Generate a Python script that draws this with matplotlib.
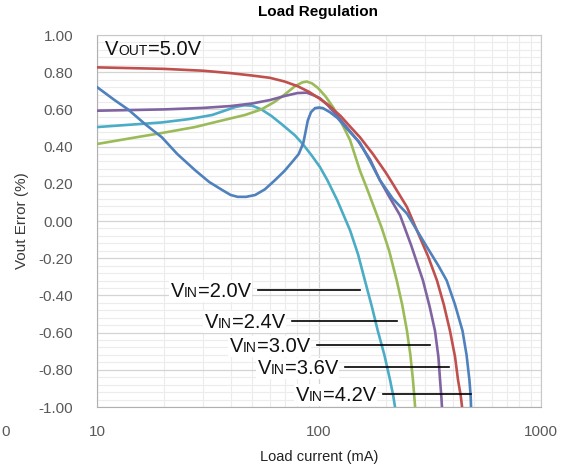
import numpy as np
import matplotlib.pyplot as plt
from matplotlib.offsetbox import TextArea, HPacker, AnnotationBbox
from matplotlib.ticker import FixedLocator, MultipleLocator, NullFormatter

plt.rcParams['font.family'] = ['Liberation Sans', 'DejaVu Sans']

# data (load current in mA, Vout error in %)
vin_labels = ["2.0V", "2.4V", "3.0V", "3.6V", "4.2V"]

x_20 = [10, 15, 19.6, 26, 33, 38, 42, 46, 50, 55, 61, 68, 78, 85, 93, 101, 109, 121,
        138, 150, 161, 173, 184, 197, 209, 216, 220]
y_20 = [0.505, 0.52, 0.53, 0.548, 0.57, 0.595, 0.613, 0.622, 0.62, 0.60, 0.565, 0.52, 0.46, 0.41, 0.35,
        0.29, 0.22, 0.11, -0.05, -0.18, -0.32, -0.46, -0.59, -0.72, -0.855, -0.94, -1.0]

x_24 = [10, 15, 20, 27.6, 35, 46.4, 55, 63, 70, 78, 84, 88, 93, 99, 107, 116, 126, 138,
        153, 165, 180, 192, 207, 224, 237, 249, 258, 265, 271]
y_24 = [0.414, 0.45, 0.475, 0.505, 0.535, 0.57, 0.60, 0.64, 0.68, 0.725, 0.745, 0.75, 0.74, 0.715,
        0.67, 0.61, 0.53, 0.435, 0.27, 0.17, 0.05, -0.04, -0.16, -0.32, -0.45, -0.59, -0.72, -0.855, -1.0]

x_30 = [10, 20, 30, 40, 50, 60, 70, 80, 88, 95, 101, 110, 128, 150, 170, 188, 205, 232,
        260, 294, 315, 333, 345, 351, 356, 358]
y_30 = [0.593, 0.60, 0.608, 0.618, 0.632, 0.65, 0.672, 0.688, 0.69, 0.675, 0.66, 0.62, 0.53, 0.43,
        0.33, 0.22, 0.14, 0.03, -0.13, -0.32, -0.46, -0.59, -0.73, -0.855, -0.95, -1.0]

x_36 = [10, 20, 30, 40, 50, 60, 70, 80, 90, 100, 110, 125, 140, 153, 175, 200, 215, 249,
        276, 310, 340, 365, 389, 410, 423, 435, 441]
y_36 = [0.826, 0.818, 0.808, 0.795, 0.782, 0.77, 0.75, 0.725, 0.695, 0.66, 0.625, 0.565, 0.50, 0.45,
        0.36, 0.26, 0.20, 0.075, -0.05, -0.19, -0.32, -0.45, -0.59, -0.73, -0.855, -0.94, -1.0]

x_42 = [10, 12, 13.8, 16.5, 19.6, 23, 27.6, 32, 36.6, 40, 43, 47, 51.6, 57, 63.4, 70, 76,
        81, 85, 87, 89, 92, 96, 100, 104, 112, 121, 135, 153, 170, 188, 215, 249, 276,
        310, 345, 376, 410, 443, 462, 476, 482, 484]
y_42 = [0.72, 0.65, 0.60, 0.52, 0.45, 0.36, 0.274, 0.21, 0.167, 0.14, 0.13, 0.13, 0.14, 0.17, 0.22,
        0.27, 0.32, 0.36, 0.42, 0.48, 0.54, 0.585, 0.607, 0.61, 0.607, 0.585, 0.554, 0.49, 0.42,
        0.32, 0.22, 0.12, 0.04, -0.05, -0.15, -0.24, -0.32, -0.45, -0.59, -0.72, -0.855, -0.94, -1.0]

# leader lines next to the labels: y level, start x, end x
lead_y = [-0.37, -0.536, -0.667, -0.785, -0.93]
lead_x0 = [53, 75.6, 97.8, 131, 194]
lead_x1 = [153, 224, 316, 385, 484]

y_ticks = [-1.0, -0.8, -0.6, -0.4, -0.2, 0.0, 0.2, 0.4, 0.6, 0.8, 1.0]
y_tick_labels = ['-1.00', '-0.80', '-0.60', '-0.40', '-0.20', '0.00', '0.20', '0.40', '0.60', '0.80', '1.00']

series = [(x_20, y_20, '#4BACC6'), (x_24, y_24, '#9BBB59'), (x_30, y_30, '#8064A2'),
          (x_36, y_36, '#C0504D'), (x_42, y_42, '#4F81BD')]

fig = plt.figure(figsize=(5.72, 4.68), dpi=100)
ax = fig.add_axes([0.1696, 0.1303, 0.7762, 0.7949])

for xs, ys, c in series:
    ax.plot(xs, ys, color=c, lw=1.9, solid_capstyle='round', solid_joinstyle='round', zorder=3)

ax.set_xscale('log')
ax.set_xlim(10, 1000)
ax.set_ylim(-1.0, 1.0)
ax.yaxis.set_minor_locator(MultipleLocator(0.04))
ax.xaxis.set_major_locator(FixedLocator([10, 100, 1000]))
ax.xaxis.set_minor_locator(FixedLocator([k * 10 ** d for d in (1, 2) for k in range(2, 10)]))
ax.xaxis.set_minor_formatter(NullFormatter())
ax.set_xticklabels(['10', '100', '1000'])
ax.set_yticks(y_ticks)
ax.set_yticklabels(y_tick_labels)
ax.tick_params(which='both', length=0, colors='#595959', labelsize=11)
ax.tick_params(axis='y', pad=17)
ax.tick_params(axis='x', pad=13)

ax.grid(which='major', color='#d4d4d4', lw=0.9)
ax.grid(which='minor', color='#ececec', lw=0.8)
ax.set_axisbelow(True)
for s in ax.spines.values():
    s.set_color('#c8c8c8')
ax.spines['left'].set_color('#b0b0b0')
ax.spines['bottom'].set_color('#b0b0b0')


def label(main, sub, rest):
    parts = [TextArea(main, textprops=dict(fontsize=14.5, color='#111111')),
             TextArea(sub, textprops=dict(fontsize=10, color='#111111')),
             TextArea(rest, textprops=dict(fontsize=14.5, color='#111111'))]
    return HPacker(children=parts, align='baseline', pad=0, sep=0)


for lab, yl, x0, x1 in zip(vin_labels, lead_y, lead_x0, lead_x1):
    ax.plot([x0, x1], [yl, yl], color='black', lw=1.2, zorder=4)
    ab = AnnotationBbox(label('V', 'IN', '=' + lab), (x0, yl), xycoords='data',
                        xybox=(-5, -1), boxcoords='offset points',
                        box_alignment=(1, 0.5), frameon=True, pad=0.1,
                        bboxprops=dict(facecolor='white', edgecolor='none'))
    ab.set_zorder(5)
    ax.add_artist(ab)

ab = AnnotationBbox(label('V', 'OUT', '=5.0V'), (0.018, 0.962), xycoords='axes fraction',
                    box_alignment=(0, 0.5), frameon=False, pad=0)
ax.add_artist(ab)

fig.text(0.556, 0.974, 'Load Regulation', ha='center', va='center', fontsize=11, fontweight='bold')
ax.set_xlabel('Load current (mA)', fontsize=10.5, color='#222222', labelpad=8)
ax.set_ylabel('Vout Error (%)', fontsize=11, color='#3a3a3a', labelpad=7)
fig.text(0.002, 0.077, '0', ha='left', va='center', fontsize=11, color='#595959')

fig.savefig('out.png', dpi=100)
